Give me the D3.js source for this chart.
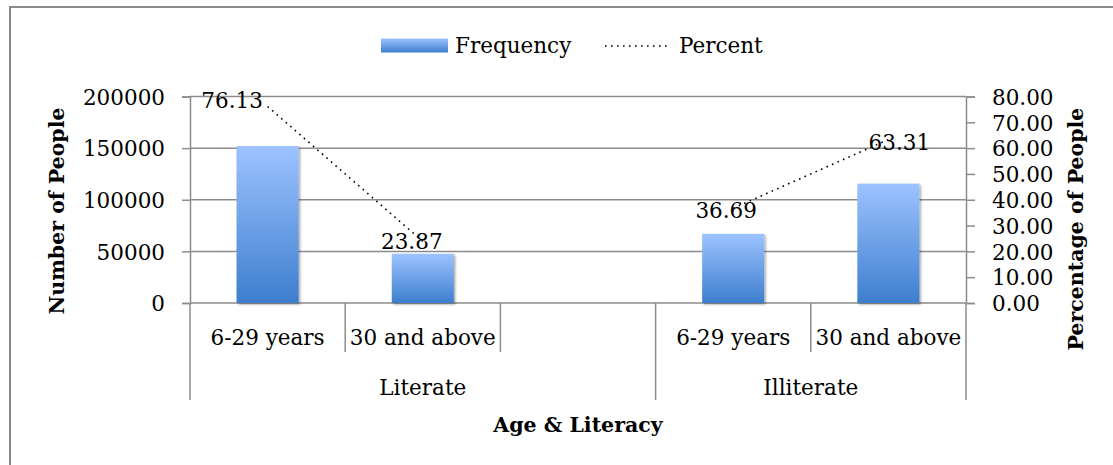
<!DOCTYPE html>
<html>
<head>
<meta charset="utf-8">
<script src="https://cdn.jsdelivr.net/npm/d3@7"></script>
<style>
  html, body { margin: 0; padding: 0; background: #fff; }
  svg { display: block; }
  text { font-family: "DejaVu Serif", serif; fill: #000; }
</style>
</head>
<body>
<svg id="chart" width="1113" height="465"></svg>
<script>
// Age groups within each literacy class (the empty slot separates the two classes)
const ageLabels = ["6-29 years", "30 and above", "", "6-29 years", "30 and above"];
const groupLabels = ["Literate", "Literate", "Literate", "Illiterate", "Illiterate"];
const groups = ["Literate", "Illiterate"];
// Number of people per slot
const frequency = [152000, 47650, null, 67000, 115600];
// Percentage within each literacy class
const percent = [76.13, 23.87, null, 36.69, 63.31];
const leftTicks = [0, 50000, 100000, 150000, 200000];
const rightTicks = [0, 10, 20, 30, 40, 50, 60, 70, 80];

const svg = d3.select("#chart");
const W = 1113, H = 465;
const plot = { left: 190, right: 966, top: 96.5, bottom: 303 };
const gridColor = "#8c8c8c";

// Outer frame (top and left edges)
svg.append("path")
  .attr("d", `M10,${H} L10,7 L${W},7`)
  .attr("fill", "none").attr("stroke", "#8a8a8a").attr("stroke-width", 2);

const idx = d3.range(ageLabels.length);
const x = d3.scaleBand().domain(idx).range([plot.left, plot.right]).padding(0);
const yL = d3.scaleLinear().domain([0, 200000]).range([plot.bottom, plot.top]);
const yR = d3.scaleLinear().domain([0, 80]).range([plot.bottom, plot.top]);

// Gradient and shadow for the bars
const defs = svg.append("defs");
const grad = defs.append("linearGradient").attr("id", "barGrad")
  .attr("x1", 0).attr("y1", 0).attr("x2", 0).attr("y2", 1);
grad.append("stop").attr("offset", "0%").attr("stop-color", "#9dc3ff");
grad.append("stop").attr("offset", "100%").attr("stop-color", "#3d7ece");
const shadow = defs.append("filter").attr("id", "shadow")
  .attr("x", "-20%").attr("y", "-20%").attr("width", "140%").attr("height", "140%");
shadow.append("feDropShadow").attr("dx", 1.5).attr("dy", 1.5).attr("stdDeviation", 1.2)
  .attr("flood-color", "#000").attr("flood-opacity", 0.35);

// Horizontal gridlines from the left axis
svg.append("g").selectAll("line").data(leftTicks).join("line")
  .attr("x1", plot.left).attr("x2", plot.right)
  .attr("y1", d => yL(d)).attr("y2", d => yL(d))
  .attr("stroke", gridColor).attr("stroke-width", 1.5);

// Left axis
const axisL = svg.append("g").attr("transform", `translate(${plot.left},0)`)
  .call(d3.axisLeft(yL).tickValues(leftTicks).tickSize(8).tickPadding(17).tickFormat(d3.format("d")));
// Right axis
const axisR = svg.append("g").attr("transform", `translate(${plot.right},0)`)
  .call(d3.axisRight(yR).tickValues(rightTicks).tickSize(9).tickPadding(17).tickFormat(d3.format(".2f")));
[axisL, axisR].forEach(g => {
  g.select(".domain").attr("stroke", gridColor).attr("stroke-width", 1.5);
  g.selectAll(".tick line").attr("stroke", gridColor).attr("stroke-width", 1.5);
  g.selectAll(".tick text").attr("font-family", "DejaVu Serif").attr("font-size", 21.5)
    .attr("fill", "#000").attr("dy", "0.36em");
});

// Category separators: short within a class, long at class boundaries
const bounds = d3.range(ageLabels.length + 1);
svg.append("g").selectAll("line").data(bounds).join("line")
  .attr("x1", i => i < ageLabels.length ? x(i) : plot.right)
  .attr("x2", i => i < ageLabels.length ? x(i) : plot.right)
  .attr("y1", plot.bottom)
  .attr("y2", i => {
    if (i === 0 || i === ageLabels.length) return 400;
    return groupLabels[i] !== groupLabels[i - 1] ? 400 : 352;
  })
  .attr("stroke", gridColor).attr("stroke-width", 1.5);

// Age labels
svg.append("g").selectAll("text").data(idx).join("text")
  .attr("x", i => x(i) + x.bandwidth() / 2).attr("y", 345)
  .attr("text-anchor", "middle").attr("font-size", 21.5)
  .text(i => ageLabels[i]);

// Class labels
svg.append("g").selectAll("text").data(groups).join("text")
  .attr("x", g => {
    const members = idx.filter(i => groupLabels[i] === g);
    const a = x(members[0]);
    const b = x(members[members.length - 1]) + x.bandwidth();
    return (a + b) / 2;
  })
  .attr("y", 395).attr("text-anchor", "middle").attr("font-size", 21.5)
  .text(g => g);

// Bars
const barW = x.bandwidth() * 0.4;
svg.append("g").selectAll("rect").data(idx.filter(i => frequency[i] != null)).join("rect")
  .attr("x", i => x(i) + (x.bandwidth() - barW) / 2)
  .attr("width", barW)
  .attr("y", i => yL(frequency[i]))
  .attr("height", i => yL(0) - yL(frequency[i]))
  .attr("fill", "url(#barGrad)")
  .attr("filter", "url(#shadow)");

// Percent line (dotted, broken at the empty slot)
const cx = i => x(i) + x.bandwidth() / 2;
const line = d3.line().defined(i => percent[i] != null).x(cx).y(i => yR(percent[i]));
svg.append("path").datum(idx).attr("d", line)
  .attr("fill", "none").attr("stroke", "#000").attr("stroke-width", 1.6)
  .attr("stroke-dasharray", "1.6,4.4");

// Percent value labels, nudged off the line
const labelNudge = { 0: [-35.5, -5.5], 1: [-11, 0], 3: [-7, 2], 4: [11, 3] };
svg.append("g").selectAll("text").data(idx.filter(i => percent[i] != null)).join("text")
  .attr("x", i => cx(i) + labelNudge[i][0])
  .attr("y", i => yR(percent[i]) + labelNudge[i][1] + 7.5)
  .attr("text-anchor", "middle").attr("font-size", 21.5)
  .text(i => d3.format(".2f")(percent[i]));

// Axis titles
svg.append("text").attr("transform", "translate(64,211) rotate(-90)")
  .attr("text-anchor", "middle").attr("font-weight", "bold").attr("font-size", 20.5)
  .text("Number of People");
svg.append("text").attr("transform", "translate(1083,229) rotate(-90)")
  .attr("text-anchor", "middle").attr("font-weight", "bold").attr("font-size", 20.5)
  .text("Percentage of People");
svg.append("text").attr("x", (plot.left + plot.right) / 2).attr("y", 432)
  .attr("text-anchor", "middle").attr("font-weight", "bold").attr("font-size", 20.5)
  .text("Age & Literacy");

// Legend
const legend = svg.append("g");
legend.append("rect").attr("x", 381).attr("y", 38.5).attr("width", 67).attr("height", 14)
  .attr("fill", "url(#barGrad)");
legend.append("text").attr("x", 455).attr("y", 53).attr("font-size", 21.5).text("Frequency");
legend.append("line").attr("x1", 605).attr("x2", 667).attr("y1", 46).attr("y2", 46)
  .attr("stroke", "#000").attr("stroke-width", 1.6).attr("stroke-dasharray", "1.6,4.4");
legend.append("text").attr("x", 679).attr("y", 53).attr("font-size", 21.5).text("Percent");
</script>
</body>
</html>
